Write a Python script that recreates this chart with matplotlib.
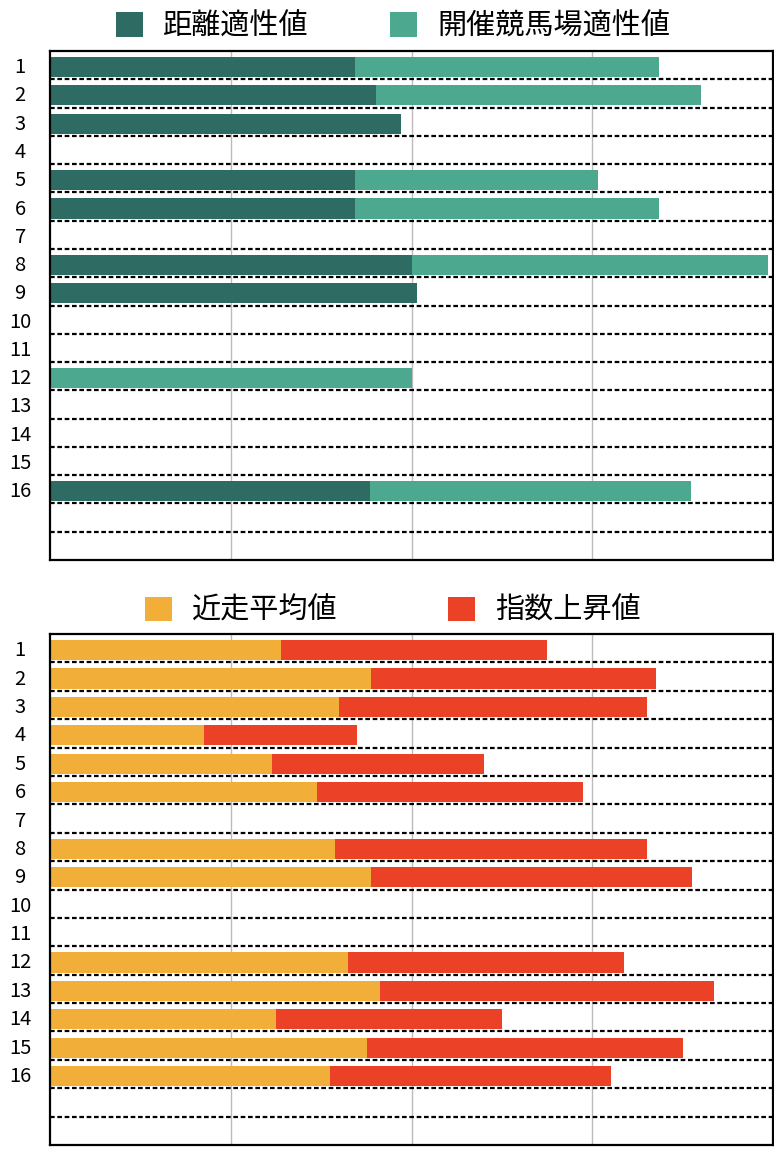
import matplotlib
matplotlib.use('Agg')
import matplotlib.pyplot as plt
import numpy as np
from matplotlib.patches import Patch

plt.rcParams['font.family'] = ['Noto Sans CJK JP', 'DejaVu Sans']

# horse numbers (rows 17, 18 are empty slots)
HORSES = [str(i) for i in range(1, 17)]
N_SLOTS = 18

# top chart
DIST_VALUES = [84.3, 90.1, 97.1, 0, 84.3, 84.3, 0, 100.1, 101.5, 0, 0, 0, 0, 0, 0, 88.5]
COURSE_VALUES = [84.3, 89.9, 0, 0, 67.2, 84.3, 0, 98.4, 0, 0, 0, 100.1, 0, 0, 0, 88.8]
TOP_LABELS = ['距離適性値', '開催競馬場適性値']

# bottom chart
RECENT_VALUES = [63.9, 88.8, 79.9, 42.6, 61.4, 73.8, 0, 78.8, 88.8, 0, 0, 82.4, 91.2, 62.5, 87.7, 77.4]
RISE_VALUES = [73.6, 78.8, 85.2, 42.3, 58.6, 73.6, 0, 86.3, 88.8, 0, 0, 76.3, 92.4, 62.5, 87.4, 77.7]
BOTTOM_LABELS = ['近走平均値', '指数上昇値']

COLORS_TOP = ['#2E6B62', '#4CA990']
COLORS_BOTTOM = ['#F1AF3A', '#EB4126']

W, H = 774, 1158
fig = plt.figure(figsize=(W / 100, H / 100), dpi=100)


def draw_panel(rect, first, second, colors, labels, legend_y, colspace):
    ax = fig.add_axes(rect)
    pos = np.arange(1, len(HORSES) + 1)
    first = np.array(first)
    second = np.array(second)
    ax.barh(pos + 0.07, first, height=0.71, color=colors[0], zorder=2)
    ax.barh(pos + 0.07, second, left=first, height=0.71, color=colors[1], zorder=2)

    # dashed separators between the rows
    for k in range(1, N_SLOTS):
        ax.axhline(k + 0.5, color='black', lw=1.6, linestyle=(0, (2.1, 1.2)), zorder=3)

    ax.set_xlim(0, 200)
    ax.set_ylim(N_SLOTS + 0.5, 0.5)
    ax.set_xticks([50, 100, 150])
    ax.set_xticklabels([])
    ax.grid(axis='x', color='#BBBBBB', lw=1.0, zorder=1)
    ax.set_axisbelow(True)
    ax.set_yticks(pos)
    ax.set_yticklabels(HORSES, fontsize=14.5, ha='center')
    ax.tick_params(axis='y', length=0, pad=21.5)
    ax.tick_params(axis='x', length=0)
    for s in ax.spines.values():
        s.set_linewidth(1.6)
        s.set_color('black')

    handles = [Patch(facecolor=c, edgecolor='none') for c in colors]
    fig.legend(handles, labels, loc='center', ncol=2, frameon=False,
               bbox_to_anchor=(393 / W, 1 - legend_y / H), fontsize=21,
               handlelength=0.92, handleheight=0.92, handletextpad=0.7,
               columnspacing=colspace, borderpad=0)
    return ax


draw_panel([50 / W, 1 - 560 / H, 723 / W, 509 / H], DIST_VALUES, COURSE_VALUES,
           COLORS_TOP, TOP_LABELS, 26.5, 2.77)
draw_panel([50 / W, 1 - 1145 / H, 723 / W, 511 / H], RECENT_VALUES, RISE_VALUES,
           COLORS_BOTTOM, BOTTOM_LABELS, 611, 3.77)

fig.savefig('out.png', dpi=100)
